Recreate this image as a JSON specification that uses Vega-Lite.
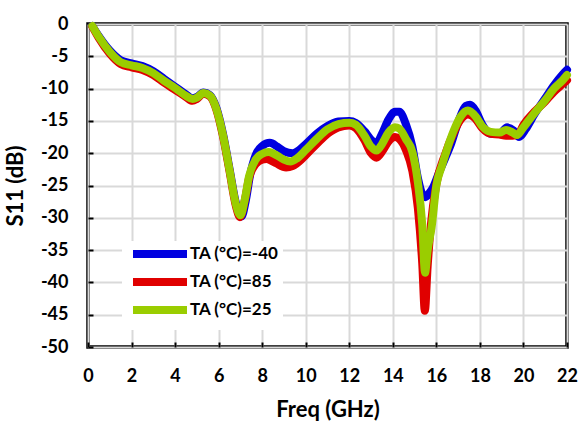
{
  "$schema": "https://vega.github.io/schema/vega-lite/v6.json",
  "width": 479,
  "height": 323,
  "autosize": {"type": "none"},
  "padding": {"left": 88, "top": 24, "right": 13, "bottom": 77},
  "background": "white",
  "config": {"view": {"stroke": "black", "strokeWidth": 3.5}, "font": "Lato"},
  "data": {"values": [
    {"t":"-40","f":0.2,"s":-0.3},{"t":"-40","f":0.5,"s":-1.9},{"t":"-40","f":1.0,"s":-4.1},{"t":"-40","f":1.5,"s":-5.6},{"t":"-40","f":2.0,"s":-6.1},{"t":"-40","f":2.5,"s":-6.5},{"t":"-40","f":3.0,"s":-7.3},{"t":"-40","f":3.5,"s":-8.5},{"t":"-40","f":4.0,"s":-9.7},{"t":"-40","f":4.5,"s":-10.9},{"t":"-40","f":4.8,"s":-11.5},{"t":"-40","f":5.0,"s":-11.3},{"t":"-40","f":5.3,"s":-10.6},{"t":"-40","f":5.6,"s":-11.0},{"t":"-40","f":5.9,"s":-13.0},{"t":"-40","f":6.2,"s":-17.0},{"t":"-40","f":6.5,"s":-22.4},{"t":"-40","f":6.8,"s":-27.8},{"t":"-40","f":7.05,"s":-29.8},{"t":"-40","f":7.25,"s":-27.3},{"t":"-40","f":7.45,"s":-23.3},{"t":"-40","f":7.7,"s":-20.3},{"t":"-40","f":8.0,"s":-18.9},{"t":"-40","f":8.35,"s":-18.4},{"t":"-40","f":8.7,"s":-19.0},{"t":"-40","f":9.0,"s":-19.7},{"t":"-40","f":9.4,"s":-20.0},{"t":"-40","f":9.7,"s":-19.5},{"t":"-40","f":10.0,"s":-18.6},{"t":"-40","f":10.5,"s":-17.0},{"t":"-40","f":11.0,"s":-15.8},{"t":"-40","f":11.5,"s":-15.1},{"t":"-40","f":12.0,"s":-15.0},{"t":"-40","f":12.3,"s":-15.3},{"t":"-40","f":12.7,"s":-16.6},{"t":"-40","f":13.0,"s":-17.9},{"t":"-40","f":13.25,"s":-18.4},{"t":"-40","f":13.5,"s":-17.0},{"t":"-40","f":13.8,"s":-14.8},{"t":"-40","f":14.1,"s":-13.6},{"t":"-40","f":14.3,"s":-13.6},{"t":"-40","f":14.6,"s":-15.5},{"t":"-40","f":14.9,"s":-19.0},{"t":"-40","f":15.15,"s":-23.8},{"t":"-40","f":15.35,"s":-26.3},{"t":"-40","f":15.5,"s":-26.8},{"t":"-40","f":15.65,"s":-26.3},{"t":"-40","f":15.85,"s":-25.3},{"t":"-40","f":16.1,"s":-23.2},{"t":"-40","f":16.4,"s":-20.8},{"t":"-40","f":16.65,"s":-18.8},{"t":"-40","f":17.0,"s":-15.2},{"t":"-40","f":17.35,"s":-12.7},{"t":"-40","f":17.55,"s":-12.5},{"t":"-40","f":17.8,"s":-13.4},{"t":"-40","f":18.1,"s":-15.5},{"t":"-40","f":18.5,"s":-17.0},{"t":"-40","f":18.9,"s":-17.0},{"t":"-40","f":19.25,"s":-16.0},{"t":"-40","f":19.55,"s":-16.5},{"t":"-40","f":19.8,"s":-17.5},{"t":"-40","f":20.1,"s":-16.3},{"t":"-40","f":20.5,"s":-14.0},{"t":"-40","f":21.0,"s":-11.5},{"t":"-40","f":21.4,"s":-9.5},{"t":"-40","f":21.8,"s":-7.8},{"t":"-40","f":22.0,"s":-7.1},
    {"t":"85","f":0.2,"s":-0.4},{"t":"85","f":0.5,"s":-2.2},{"t":"85","f":1.0,"s":-4.6},{"t":"85","f":1.5,"s":-6.2},{"t":"85","f":2.0,"s":-6.7},{"t":"85","f":2.5,"s":-7.1},{"t":"85","f":3.0,"s":-7.9},{"t":"85","f":3.5,"s":-9.1},{"t":"85","f":4.0,"s":-10.2},{"t":"85","f":4.5,"s":-11.3},{"t":"85","f":4.8,"s":-11.9},{"t":"85","f":5.0,"s":-11.6},{"t":"85","f":5.3,"s":-10.8},{"t":"85","f":5.6,"s":-11.2},{"t":"85","f":5.9,"s":-13.3},{"t":"85","f":6.2,"s":-17.4},{"t":"85","f":6.5,"s":-22.8},{"t":"85","f":6.8,"s":-28.3},{"t":"85","f":6.98,"s":-29.9},{"t":"85","f":7.2,"s":-27.3},{"t":"85","f":7.4,"s":-23.8},{"t":"85","f":7.7,"s":-21.7},{"t":"85","f":8.0,"s":-21.0},{"t":"85","f":8.2,"s":-20.9},{"t":"85","f":8.6,"s":-21.5},{"t":"85","f":9.1,"s":-22.2},{"t":"85","f":9.4,"s":-22.0},{"t":"85","f":9.8,"s":-21.0},{"t":"85","f":10.0,"s":-20.3},{"t":"85","f":10.5,"s":-18.6},{"t":"85","f":11.0,"s":-17.0},{"t":"85","f":11.5,"s":-16.0},{"t":"85","f":12.0,"s":-15.7},{"t":"85","f":12.3,"s":-16.1},{"t":"85","f":12.7,"s":-18.0},{"t":"85","f":13.0,"s":-20.0},{"t":"85","f":13.25,"s":-20.7},{"t":"85","f":13.5,"s":-19.8},{"t":"85","f":13.8,"s":-18.2},{"t":"85","f":14.1,"s":-17.5},{"t":"85","f":14.3,"s":-17.8},{"t":"85","f":14.6,"s":-19.5},{"t":"85","f":14.9,"s":-22.8},{"t":"85","f":15.15,"s":-28.5},{"t":"85","f":15.35,"s":-37.0},{"t":"85","f":15.47,"s":-44.4},{"t":"85","f":15.6,"s":-37.5},{"t":"85","f":15.75,"s":-31.0},{"t":"85","f":16.0,"s":-24.8},{"t":"85","f":16.4,"s":-20.2},{"t":"85","f":16.8,"s":-16.8},{"t":"85","f":17.1,"s":-14.9},{"t":"85","f":17.45,"s":-14.0},{"t":"85","f":17.8,"s":-14.7},{"t":"85","f":18.1,"s":-16.1},{"t":"85","f":18.5,"s":-17.0},{"t":"85","f":18.9,"s":-17.1},{"t":"85","f":19.2,"s":-17.3},{"t":"85","f":19.5,"s":-17.3},{"t":"85","f":19.75,"s":-17.1},{"t":"85","f":20.0,"s":-15.6},{"t":"85","f":20.5,"s":-13.6},{"t":"85","f":21.0,"s":-12.0},{"t":"85","f":21.4,"s":-10.5},{"t":"85","f":21.8,"s":-9.3},{"t":"85","f":22.0,"s":-8.7},
    {"t":"25","f":0.2,"s":-0.3},{"t":"25","f":0.5,"s":-2.0},{"t":"25","f":1.0,"s":-4.3},{"t":"25","f":1.5,"s":-5.9},{"t":"25","f":2.0,"s":-6.4},{"t":"25","f":2.5,"s":-6.8},{"t":"25","f":3.0,"s":-7.6},{"t":"25","f":3.5,"s":-8.8},{"t":"25","f":4.0,"s":-9.9},{"t":"25","f":4.5,"s":-11.1},{"t":"25","f":4.8,"s":-11.6},{"t":"25","f":5.0,"s":-11.4},{"t":"25","f":5.3,"s":-10.7},{"t":"25","f":5.6,"s":-11.1},{"t":"25","f":5.9,"s":-13.2},{"t":"25","f":6.2,"s":-17.2},{"t":"25","f":6.5,"s":-22.6},{"t":"25","f":6.8,"s":-28.0},{"t":"25","f":7.0,"s":-29.6},{"t":"25","f":7.2,"s":-27.2},{"t":"25","f":7.4,"s":-23.5},{"t":"25","f":7.7,"s":-21.0},{"t":"25","f":8.0,"s":-20.1},{"t":"25","f":8.3,"s":-19.8},{"t":"25","f":8.7,"s":-20.4},{"t":"25","f":9.0,"s":-21.0},{"t":"25","f":9.3,"s":-21.3},{"t":"25","f":9.6,"s":-20.8},{"t":"25","f":10.0,"s":-19.5},{"t":"25","f":10.5,"s":-17.8},{"t":"25","f":11.0,"s":-16.3},{"t":"25","f":11.5,"s":-15.5},{"t":"25","f":12.0,"s":-15.3},{"t":"25","f":12.3,"s":-15.6},{"t":"25","f":12.7,"s":-17.3},{"t":"25","f":13.0,"s":-19.0},{"t":"25","f":13.25,"s":-19.6},{"t":"25","f":13.5,"s":-18.6},{"t":"25","f":13.8,"s":-16.8},{"t":"25","f":14.1,"s":-16.0},{"t":"25","f":14.3,"s":-16.2},{"t":"25","f":14.6,"s":-17.8},{"t":"25","f":14.9,"s":-19.8},{"t":"25","f":15.15,"s":-24.5},{"t":"25","f":15.35,"s":-31.0},{"t":"25","f":15.48,"s":-38.5},{"t":"25","f":15.6,"s":-35.0},{"t":"25","f":15.78,"s":-31.5},{"t":"25","f":16.0,"s":-25.0},{"t":"25","f":16.25,"s":-22.0},{"t":"25","f":16.5,"s":-19.3},{"t":"25","f":16.8,"s":-16.5},{"t":"25","f":17.1,"s":-14.4},{"t":"25","f":17.45,"s":-13.4},{"t":"25","f":17.8,"s":-14.3},{"t":"25","f":18.1,"s":-15.8},{"t":"25","f":18.5,"s":-16.7},{"t":"25","f":18.9,"s":-16.8},{"t":"25","f":19.2,"s":-16.4},{"t":"25","f":19.5,"s":-16.8},{"t":"25","f":19.7,"s":-17.2},{"t":"25","f":20.0,"s":-16.0},{"t":"25","f":20.5,"s":-13.8},{"t":"25","f":21.0,"s":-11.8},{"t":"25","f":21.4,"s":-10.0},{"t":"25","f":21.8,"s":-8.7},{"t":"25","f":22.0,"s":-7.9}
  ]},
  "mark": {"type": "line", "strokeWidth": 8, "interpolate": "monotone", "strokeCap": "round", "strokeJoin": "round"},
  "encoding": {
    "x": {
      "field": "f", "type": "quantitative",
      "scale": {"domain": [0, 22], "nice": false, "zero": false},
      "axis": {
        "values": [0, 2, 4, 6, 8, 10, 12, 14, 16, 18, 20, 22],
        "title": "Freq (GHz)", "titleFont": "Lato", "titleFontSize": 22, "titleFontWeight": "bold", "titleColor": "black", "titlePadding": 14,
        "labelFont": "Lato", "labelFontSize": 18, "labelFontWeight": "bold", "labelColor": "black", "labelPadding": 25, "labelFlush": false,
        "domain": false, "tickColor": "black", "tickSize": -5, "tickWidth": 2,
        "gridColor": "#D9D9D9", "gridWidth": 2
      }
    },
    "y": {
      "field": "s", "type": "quantitative",
      "scale": {"domain": [-50, 0], "nice": false, "zero": false},
      "axis": {
        "values": [-50, -45, -40, -35, -30, -25, -20, -15, -10, -5, 0],
        "labelExpr": "'' + datum.value",
        "title": "S11 (dB)", "titleFont": "Lato", "titleFontSize": 22, "titleFontWeight": "bold", "titleColor": "black", "titlePadding": 13,
        "labelFont": "Lato", "labelFontSize": 18, "labelFontWeight": "bold", "labelColor": "black", "labelPadding": 25, "labelFlush": false,
        "domain": false, "tickColor": "black", "tickSize": -5, "tickWidth": 2,
        "gridColor": "#D9D9D9", "gridWidth": 2
      }
    },
    "color": {
      "field": "t", "type": "nominal",
      "scale": {"domain": ["-40", "85", "25"], "range": ["#0000E0", "#E00000", "#9ACD00"]},
      "legend": {
        "orient": "none", "legendX": 34, "legendY": 217, "title": null,
        "fillColor": "white", "padding": 4,
        "labelExpr": "'TA (°C)=' + datum.label",
        "labelFont": "Lato", "labelFontSize": 17, "labelFontWeight": "bold", "labelColor": "black", "labelOffset": 46,
        "symbolType": "M-0.4,0H10.4", "symbolStrokeWidth": 8, "symbolSize": 100, "rowPadding": -4
      }
    }
  }
}
